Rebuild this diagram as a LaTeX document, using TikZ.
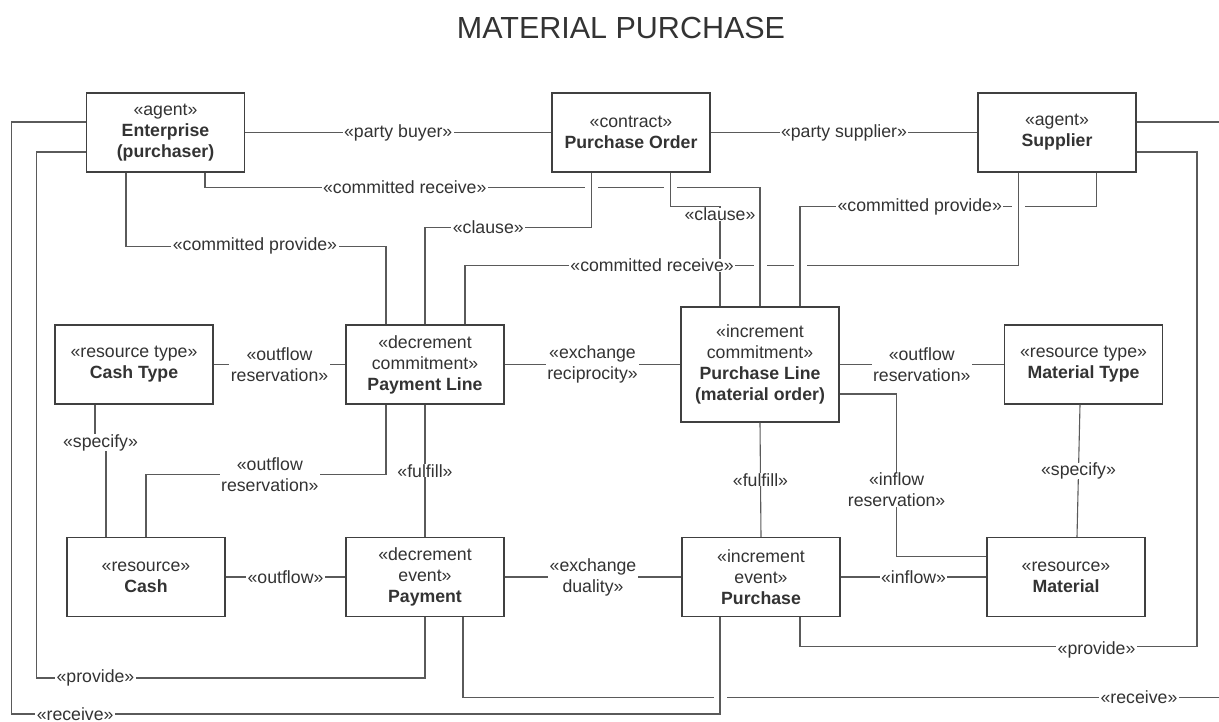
\documentclass[tikz,border=0pt]{standalone}
\usepackage{fontspec}
\setmainfont{Liberation Sans}
\definecolor{txt}{HTML}{333333}
\definecolor{boxc}{HTML}{404040}
\definecolor{linec}{HTML}{5A5A5A}
\begin{document}
\begin{tikzpicture}[x=1pt,y=-1pt,
  every node/.style={font=\fontsize{17.7}{21}\selectfont, text=txt},
  box/.style={draw=boxc, line width=1.2pt, fill=white, minimum width=158pt, minimum height=79pt, inner sep=0pt, align=center},
  conn/.style={draw=linec, line width=1.1pt},
  lbl/.style={fill=white, inner xsep=1.5pt, inner ysep=0pt, align=center},
  jump/.style={conn, preaction={draw=white, line width=13pt}}
]
\useasboundingbox (0,0) rectangle (1219,722);
\node[font=\fontsize{30.5}{36}\selectfont] (title) at (621,28) {MATERIAL PURCHASE};

% boxes
\node[box] (ent) at (165.5,132.5) {«agent»\\\textbf{Enterprise}\\\textbf{(purchaser)}};
\node[box] (po) at (631,132.5) {«contract»\\\textbf{Purchase Order}};
\node[box] (sup) at (1057,132.5) {«agent»\\\textbf{Supplier}};
\node[box] (cashtype) at (134,364.5) {«resource type»\\\textbf{Cash Type}};
\node[box] (payline) at (425,364.5) {«decrement\\commitment»\\\textbf{Payment Line}};
\node[box, minimum height=115pt] (purline) at (760,364.5) {«increment\\commitment»\\\textbf{Purchase Line}\\\textbf{(material order)}};
\node[box] (mattype) at (1083.5,364.5) {«resource type»\\\textbf{Material Type}};
\node[box] (cash) at (146,577) {«resource»\\\textbf{Cash}};
\node[box] (payment) at (425,577) {«decrement\\event»\\\textbf{Payment}};
\node[box] (purchase) at (761,577) {«increment\\event»\\\textbf{Purchase}};
\node[box] (material) at (1066,577) {«resource»\\\textbf{Material}};

% connectors
\draw[conn] (ent.east) -- node[lbl]{«party buyer»} (po.west);
\draw[conn] (po.east) -- node[lbl]{«party supplier»} (sup.west);
\draw[conn] ([xshift=39.5]ent.south) -- ++(0,15) -| node[lbl,pos=0.18]{«committed receive»} (purline.north);
\draw[conn] ([xshift=-39.5]ent.south) -- ++(0,73.5) -| node[lbl,pos=0.248]{«committed provide»} ([xshift=-39]payline.north);
\draw[conn] ([xshift=-39.5]po.south) -- ++(0,54.5) -| node[lbl,pos=0.31]{«clause»} (payline.north);
\draw[conn] ([xshift=39.5]po.south) -- ++(0,34) -| node[lbl,pos=0.54]{«clause»} ([xshift=-40]purline.north);
\draw[conn] ([xshift=-38.5]sup.south) -- ++(0,93) -| node[lbl,pos=0.331]{«committed receive»} ([xshift=40]payline.north);
\draw[conn] ([xshift=39.5]sup.south) -- ++(0,34) -| node[lbl,pos=0.298]{«committed provide»} ([xshift=40]purline.north);
\draw[conn] ([yshift=10.5]ent.west) -- ++(-74.5,0) -- ++(0,592) -| node[lbl,pos=0.045]{«receive»} ([xshift=-41]purchase.south);
\draw[conn] ([yshift=-19.5]ent.west) -- ++(-49.5,0) -- ++(0,526) -| node[lbl,pos=0.076]{«provide»} (payment.south);
\draw[conn] ([xshift=38]payment.south) -- ++(0,80) -- node[lbl,pos=0.87]{«receive»} ++(777,0) |- ([yshift=10.5]sup.east);
\draw[conn] ([xshift=39]purchase.south) -- ++(0,29) -- node[lbl,pos=0.747,yshift=-4pt]{«provide»} ++(397,0) |- ([yshift=-19.5]sup.east);
\draw[conn] (cashtype.east) -- node[lbl]{«outflow\\reservation»} (payline.west);
\draw[conn] ([xshift=-39]cashtype.south) -- ++(0,38) -- node[lbl]{«specify»} ++(11,0) -- ([xshift=-40]cash.north);
\draw[conn] ([xshift=-39]payline.south) -- ++(0,70) -| node[lbl,pos=0.242]{«outflow\\reservation»} (cash.north);
\draw[conn] (payline.south) -- node[lbl]{«fulfill»} (payment.north);
\draw[conn] (payline.east) -- node[lbl]{«exchange\\reciprocity»} (purline.west);
\draw[conn] (purline.east) -- node[lbl]{«outflow\\reservation»} (mattype.west);
\draw[conn] ([yshift=-29.5]purline.east) -- ++(57,0) |- node[lbl,pos=0.295]{«inflow\\reservation»} ([yshift=20.5]material.west);
\draw[conn] ([xshift=-3.5]mattype.south) -- node[lbl]{«specify»} ([xshift=11]material.north);
\draw[conn] (purline.south) -- node[lbl]{«fulfill»} (purchase.north);
\draw[conn] (cash.east) -- node[lbl]{«outflow»} (payment.west);
\draw[conn] (payment.east) -- node[lbl]{«exchange\\duality»} (purchase.west);
\draw[conn] (purchase.east) -- node[lbl]{«inflow»} (material.west);

% line jumps
\draw[jump] (591.5,180) -- (591.5,194);
\draw[jump] (670.5,180) -- (670.5,194);
\draw[jump] (760,258) -- (760,272);
\draw[jump] (800,258) -- (800,272);
\draw[jump] (1018.5,199) -- (1018.5,213);
\draw[jump] (720,690) -- (720,704);
\end{tikzpicture}
\end{document}
